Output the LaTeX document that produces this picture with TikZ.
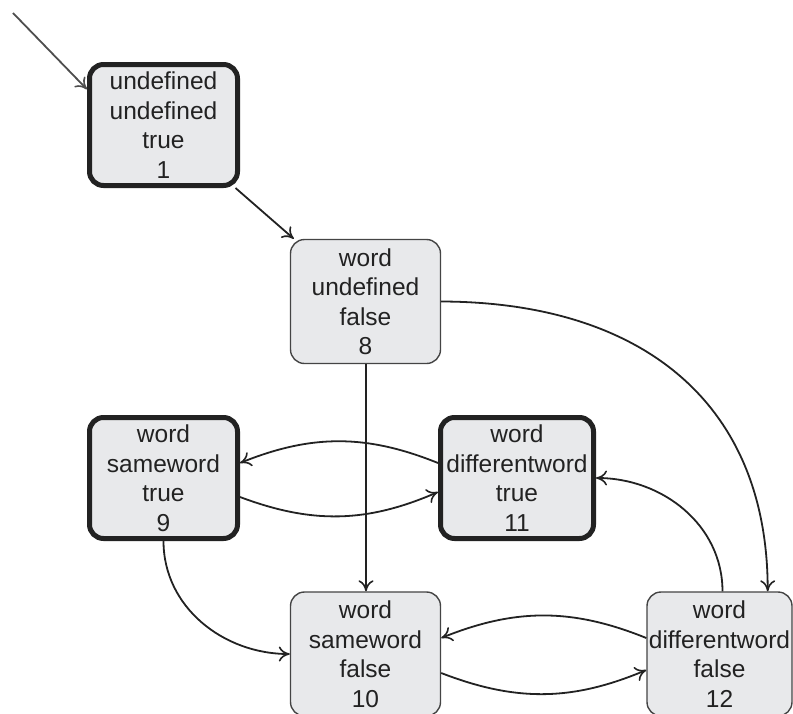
\documentclass[tikz,border=0pt]{standalone}
\usepackage{fontspec}
\setmainfont{Liberation Sans}
\usetikzlibrary{arrows.meta}
\definecolor{boxfill}{HTML}{E8E9EB}
\definecolor{ink}{HTML}{222222}
\definecolor{rim}{HTML}{444444}
\begin{document}
\begin{tikzpicture}[x=1pt,y=1pt,
  state/.style={draw=rim, fill=boxfill, rounded corners=14pt, line width=1.4pt,
    align=center, inner sep=0pt, minimum width=150pt, minimum height=124pt,
    text=ink, font=\fontsize{24.5}{29.5}\selectfont},
  accept/.style={state, draw=ink, line width=5pt, minimum width=148pt, minimum height=121pt},
  edge/.style={draw=ink, line width=1.8pt,
    -{Computer Modern Rightarrow[length=11pt,width=15pt,line width=1.6pt]}}]
\clip (0,0) rectangle (793,-713);

% states
\node[accept] (n1)  at (163.5,-125) {undefined\\undefined\\true\\1};
\node[state]  (n8)  at (365.5,-301.5) {word\\undefined\\false\\8};
\node[accept] (n9)  at (163.5,-478) {word\\sameword\\true\\9};
\node[accept, minimum width=153pt] (n11) at (517,-478) {word\\differentword\\true\\11};
\node[state]  (n10) at (365.5,-654) {word\\sameword\\false\\10};
\node[state, minimum width=145pt] (n12) at (719.5,-654) {word\\differentword\\false\\12};

% start arrow
\coordinate (start) at (13,-13);
\draw[edge, draw=ink!80] (start) -- (n1.155);

% transitions
\draw[edge] (n1) -- (n8);
\draw[edge] ([xshift=0.5pt]n8.south) -- ([xshift=0.5pt]n10.north);
\draw[edge] (n8.east) .. controls (640,-302) and ([xshift=-25pt,yshift=190pt]n12.north east) .. ([xshift=-25pt]n12.north east);
\draw[edge] ([yshift=15pt]n11.west) to[bend right=22] ([yshift=15pt]n9.east);
\draw[edge] ([yshift=-19pt]n9.east) to[bend right=22] ([yshift=-14pt]n11.west);
\draw[edge] (n9.south) to[out=-90,in=180] (n10.west);
\draw[edge] ([yshift=16pt]n12.west) to[bend right=22] ([yshift=16pt]n10.east);
\draw[edge] ([yshift=-19pt]n10.east) to[bend right=22] ([yshift=-16pt]n12.west);
\draw[edge] ([xshift=3pt]n12.north) to[out=90,in=0] (n11.east);
\end{tikzpicture}
\end{document}
